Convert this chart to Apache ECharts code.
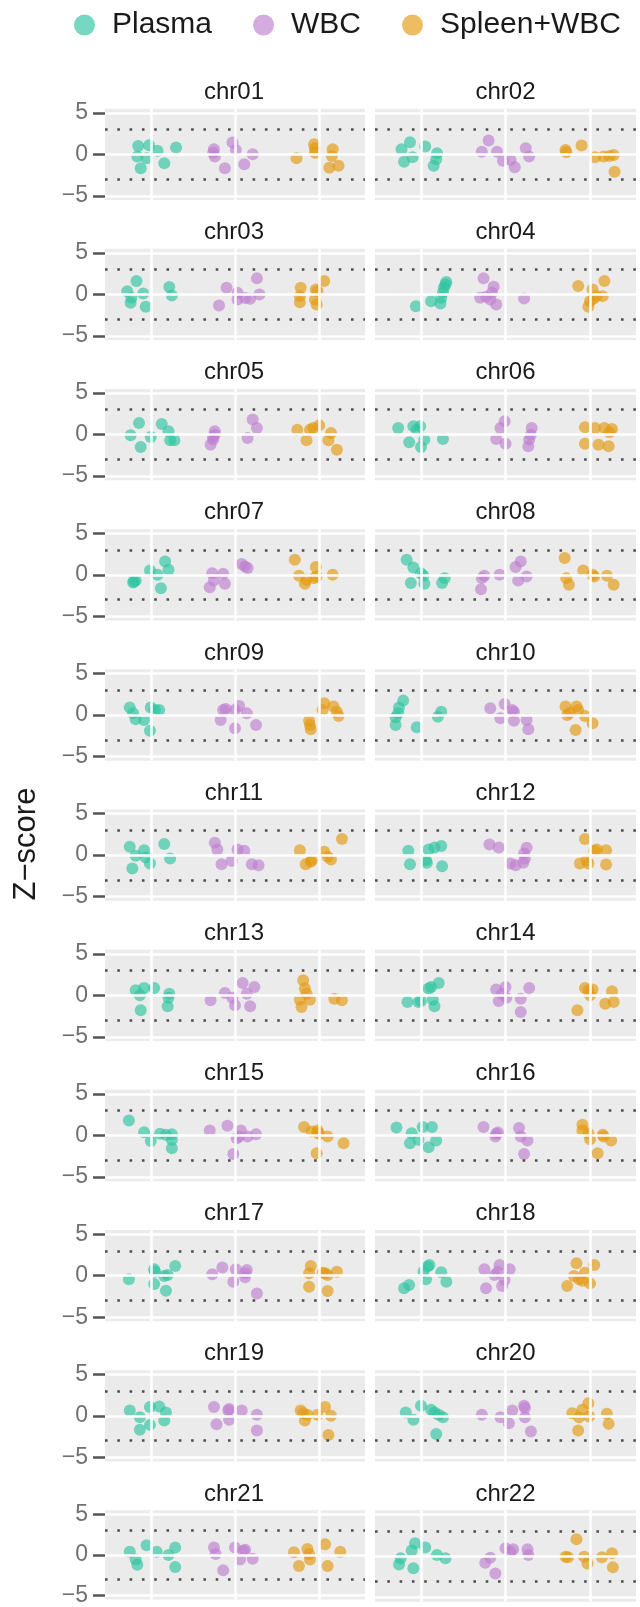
<!DOCTYPE html>
<html><head><meta charset="utf-8">
<script src="https://cdn.jsdelivr.net/npm/echarts@6/dist/echarts.min.js"></script>
<style>html,body{margin:0;padding:0;background:#fff}#c{width:640px;height:1607px}</style>
</head><body><div id="c"></div>
<script>
const chromosomes = ['chr01','chr02','chr03','chr04','chr05','chr06','chr07','chr08','chr09','chr10','chr11',
  'chr12','chr13','chr14','chr15','chr16','chr17','chr18','chr19','chr20','chr21','chr22'];
const groups = ['Plasma','WBC','Spleen+WBC'];
const yTicks = [-5, 0, 5];
const thresholds = [-3, 3];
const yTitle = 'Z\u2212score';

// horizontal jitter (in category units) and Z-score of each sample, one row per chromosome
const plasmaJitter = [
 [-0.15,-0.02,0.08,-0.16,-0.05,-0.12,0.16,0.30],[-0.23,-0.13,-0.20,-0.10,0.05,0.19,0.18,0.15],
 [-0.28,-0.17,-0.23,-0.24,-0.09,-0.06,0.22,0.25],[-0.06,0.12,0.23,0.24,0.26,0.27,0.29,0.30],
 [-0.24,-0.14,-0.12,0.0,0.13,0.21,0.23,0.28],[-0.27,-0.14,-0.09,-0.05,-0.01,0.0,0.04,0.26],
 [-0.21,-0.18,-0.01,0.08,0.12,0.17,0.21,-0.20],[-0.17,-0.09,0.0,0.03,0.04,-0.12,0.25,0.28],
 [-0.25,-0.21,-0.18,-0.08,-0.01,0.0,0.05,0.10],[-0.30,-0.30,-0.27,-0.26,-0.21,-0.05,0.20,0.24],
 [-0.25,-0.22,-0.18,-0.08,-0.06,-0.01,0.16,0.23],[-0.15,-0.13,0.06,0.07,0.09,0.16,0.24,0.25],
 [-0.18,-0.13,-0.12,-0.08,0.04,0.20,0.22,0.21],[-0.16,-0.03,0.0,0.09,0.12,0.14,0.16,0.21],
 [-0.26,-0.08,0.0,0.11,0.18,0.25,0.25,0.25],[-0.29,-0.13,-0.11,-0.03,0.02,0.09,0.13,0.18],
 [-0.26,0.04,0.05,0.04,0.16,0.20,0.18,0.29],[-0.20,-0.14,0.03,0.06,0.08,0.10,0.24,0.30],
 [-0.25,-0.13,-0.13,-0.01,-0.01,0.10,0.16,0.18],[-0.18,-0.09,0.0,0.12,0.16,0.21,0.26,0.18],
 [-0.25,-0.18,-0.16,-0.05,0.07,0.21,0.29,0.29],[-0.26,-0.24,-0.11,-0.09,-0.07,0.05,0.19,0.29]
];
const plasmaZ = [
 [1.0,1.09,0.44,-0.28,-0.48,-1.69,-1.09,0.81],[0.6,1.45,-0.89,-0.36,0.93,0.12,-0.6,-1.37],
 [0.4,1.61,-0.4,-1.0,0.12,-1.49,0.89,-0.12],[-1.41,-0.81,-1.09,-0.4,0.28,0.81,1.21,1.49],
 [-0.08,1.41,-1.49,-0.28,1.29,0.4,-0.69,-0.69],[0.81,-0.93,1.01,0.6,1.01,-1.49,-0.6,-0.52],
 [-0.93,-0.69,0.52,0.0,-1.61,1.61,0.6,-0.81],[1.81,0.89,0.2,-0.12,-1.09,-1.0,-1.0,-0.4],
 [0.89,0.2,-0.52,-0.6,-1.89,0.89,0.6,0.6],[-1.21,-0.28,0.2,0.89,1.73,-1.49,-0.2,0.4],
 [1.01,-1.61,-0.08,0.6,-0.28,-1.0,1.33,-0.4],[0.52,-1.09,-0.6,-0.93,0.69,0.93,1.09,-1.33],
 [0.6,0.0,-1.81,0.89,0.89,-1.33,0.2,-0.28],[-0.81,-0.81,-0.69,0.81,1.01,-0.52,-1.33,1.49],
 [1.81,0.4,-0.65,0.2,0.08,0.16,-0.52,-1.53],[0.97,-0.93,0.28,-0.52,1.01,-1.41,1.01,-0.6],
 [-0.44,0.77,0.48,-1.01,-0.04,0.08,-1.81,1.17],[-1.53,-1.13,0.48,-0.44,1.09,1.29,0.4,-0.73],
 [0.65,-0.16,-1.69,1.05,-1.09,1.13,-0.56,0.4],[0.4,-0.48,1.21,0.73,0.4,0.12,-0.16,-2.18],
 [0.4,-0.56,-1.21,1.21,0.4,0.0,0.93,-1.49],[-1.01,-0.28,0.65,-1.49,1.53,1.01,0.12,-0.28]
];
const wbcJitter = [
 [-0.25,-0.26,-0.24,-0.03,0.01,-0.12,0.11,0.21],[-0.28,-0.20,-0.10,-0.03,0.06,0.11,0.24,0.28],
 [-0.19,-0.10,0.03,0.03,0.12,0.18,0.26,0.29],[-0.26,-0.30,-0.23,-0.14,-0.16,-0.18,-0.11,0.22],
 [-0.29,-0.26,-0.24,-0.24,0.15,0.21,0.26,-0.26],[-0.11,-0.06,-0.01,0.0,0.27,0.28,0.30,0.31],
 [-0.30,-0.27,-0.25,-0.14,-0.12,0.08,0.15,0.12],[-0.29,-0.28,-0.25,-0.07,0.12,0.18,0.25,0.15],
 [-0.17,-0.14,-0.11,0.0,0.0,0.05,0.14,0.25],[-0.18,-0.06,-0.01,0.08,0.10,0.10,0.25,0.27],
 [-0.24,-0.21,-0.16,-0.04,0.03,0.11,0.20,0.28],[-0.19,-0.08,0.06,0.12,0.21,0.23,0.25,0.22],
 [-0.29,-0.12,-0.03,0.0,0.09,0.14,0.18,0.23],[-0.11,-0.08,-0.04,0.0,0.01,0.18,0.18,0.28],
 [-0.30,-0.09,-0.02,0.02,0.07,0.15,0.25,0.05],[-0.26,-0.12,-0.09,-0.11,0.16,0.18,0.26,0.22],
 [-0.27,-0.15,-0.02,0.01,0.12,0.12,0.14,0.26],[-0.25,-0.23,-0.13,-0.09,-0.07,-0.04,-0.01,0.05],
 [-0.25,-0.22,-0.08,-0.07,-0.07,0.08,0.26,0.26],[-0.28,-0.06,0.04,0.08,0.22,0.23,0.23,0.30],
 [-0.25,-0.23,-0.14,0.0,0.06,0.10,0.12,0.21],[-0.24,-0.18,-0.12,0.0,0.06,0.09,0.26,0.27]
];
const wbcZ = [
 [0.6,0.2,-0.28,1.41,0.52,-1.69,-1.21,0.0],[0.32,1.65,0.32,-0.77,-0.69,-1.57,0.73,-0.28],
 [-1.33,0.81,0.2,-0.6,-0.44,-0.52,1.94,0.0],[1.94,-0.4,-0.28,0.93,0.2,-0.6,-1.21,-0.48],
 [-1.21,-0.6,0.0,0.4,-0.4,1.81,0.81,-0.28],[-0.52,0.81,1.61,-1.09,-1.41,-0.6,0.0,0.81],
 [-1.49,0.2,-0.69,0.12,-1.09,1.29,0.81,1.01],[-1.73,-0.4,-0.12,0.0,0.93,1.61,-0.2,-0.69],
 [-0.6,0.6,0.73,-1.61,0.6,1.09,0.2,-1.21],[0.81,-0.4,1.33,0.6,0.4,-0.69,-0.6,-1.73],
 [1.49,0.69,-1.09,-0.69,0.69,0.52,-1.09,-1.21],[1.29,0.93,-1.0,-1.21,-0.93,-0.4,0.89,0.2],
 [-0.6,0.28,-0.28,-1.21,1.49,0.2,-1.33,1.01],[0.69,-0.69,0.2,1.01,-0.28,-0.4,-2.02,0.89],
 [0.6,1.17,-2.22,-0.32,0.6,-0.12,0.16,-0.12],[1.01,-0.12,0.36,0.2,0.89,-0.12,-0.6,-2.22],
 [0.16,0.97,-0.73,0.77,0.28,-0.2,0.69,-2.14],[0.77,-1.53,0.08,0.48,1.29,-1.25,-0.52,0.77],
 [1.05,-1.01,0.65,-0.48,0.81,0.65,0.12,-1.77],[0.12,-0.16,-0.89,0.65,1.21,0.93,-0.16,-1.9],
 [0.93,0.12,-1.9,0.93,-0.56,0.52,0.65,-0.48],[-0.81,-0.2,-2.1,0.93,0.52,0.81,0.81,0.12]
];
const spleenJitter = [
 [-0.27,-0.06,-0.05,-0.05,0.16,0.15,0.12,0.23],[-0.28,-0.29,-0.10,0.06,0.16,0.28,0.29,0.23],
 [-0.22,-0.23,-0.23,-0.04,-0.02,-0.03,-0.05,0.06],[-0.14,0.17,0.03,0.08,0.15,0.0,-0.02,0.04],
 [-0.26,-0.15,-0.11,-0.07,0.0,0.14,0.11,0.21],[-0.06,-0.06,0.06,0.10,0.17,0.22,0.23,0.26],
 [-0.29,-0.24,-0.17,-0.15,-0.06,-0.04,-0.03,0.16],[-0.30,-0.28,-0.25,-0.08,0.03,0.05,0.20,0.28],
 [-0.12,-0.11,-0.10,0.04,0.06,0.17,0.21,0.23],[-0.29,-0.27,-0.24,-0.17,-0.16,-0.14,-0.06,0.03],
 [-0.23,-0.16,-0.09,-0.10,0.06,0.10,0.14,0.27],[-0.12,-0.06,-0.04,-0.02,0.05,0.08,0.19,0.19],
 [-0.23,-0.21,-0.19,-0.17,-0.15,-0.11,0.18,0.27],[-0.15,-0.06,-0.02,0.0,0.03,0.18,0.26,0.28],
 [-0.18,-0.09,-0.03,-0.02,0.0,0.10,0.29,-0.02],[-0.09,-0.09,-0.02,0.0,0.09,0.15,0.16,0.25],
 [-0.12,-0.10,-0.12,0.04,0.07,0.10,0.10,0.21],[-0.27,-0.19,-0.16,-0.13,-0.09,-0.06,0.0,0.05],
 [-0.22,-0.19,-0.17,-0.14,-0.02,0.07,0.14,0.11],[-0.21,-0.14,-0.13,-0.09,-0.02,-0.01,0.20,0.22],
 [-0.30,-0.24,-0.14,-0.12,-0.11,0.07,0.10,0.25],[-0.29,-0.26,-0.16,-0.07,-0.03,0.14,0.26,0.27]
];
const spleenZ = [
 [-0.48,1.21,0.73,0.2,0.6,-0.2,-1.61,-1.37],[0.24,0.52,1.05,-0.36,-0.28,-0.08,-2.1,-0.2],
 [0.81,-0.2,-0.93,0.6,0.4,-1.21,-0.6,1.61],[1.01,1.61,0.6,-0.2,-0.2,-0.81,-1.49,-0.52],
 [0.6,-0.69,0.6,0.81,1.13,0.2,-0.69,-1.81],[0.89,-1.09,0.81,-1.21,0.81,-1.41,0.28,0.69],
 [1.81,-0.12,-1.09,-0.6,-0.4,0.93,-0.2,0.0],[2.02,-0.4,-1.21,0.52,0.0,-0.2,-0.12,-1.21],
 [-0.69,-1.21,-1.73,0.6,1.41,1.01,0.4,-0.12],[1.01,0.0,0.28,-1.81,1.01,0.6,-0.12,-1.01],
 [0.6,-1.09,-0.6,-0.81,0.4,-0.2,-0.52,1.94],[-1.0,1.94,-0.6,-1.0,0.52,0.69,0.6,-1.13],
 [-0.52,-1.41,1.81,0.81,0.2,-0.52,-0.4,-0.6],[-1.81,0.89,0.6,0.0,0.69,-1.01,0.48,-0.81],
 [1.01,0.48,-2.14,0.36,0.2,-0.12,-0.93,0.6],[1.29,0.6,0.28,-0.44,-2.14,0.08,-0.12,-0.6],
 [0.28,1.17,-1.33,0.36,0.28,-1.85,0.08,0.48],[-1.25,-0.04,1.49,-0.44,-0.6,0.36,-0.93,1.29],
 [0.65,0.32,-0.56,0.12,0.12,1.05,0.0,-2.3],[0.32,-1.77,-0.16,0.73,1.53,-0.08,0.24,-0.97],
 [0.32,-1.37,0.73,0.12,-0.56,1.33,-1.37,0.4],[-0.08,-0.16,2.02,-0.08,-0.89,-0.16,0.32,-1.37]
];

const jitters = [plasmaJitter, wbcJitter, spleenJitter];
const zscores = [plasmaZ, wbcZ, spleenZ];
const colors = ['#2ec4a0', '#bf80d0', '#e39a10'];
const legendColors = ['#77d8c1', '#d5ace0', '#edbd63'];

const FONT = "'Liberation Sans', Arial, Helvetica, sans-serif";
const ROW0 = 154.3, STEP = 140.17, PX = 8.3;
const panels = [{left: 105, width: 260, cx: 234}, {left: 375, width: 261, cx: 505.5}];

const chart = echarts.init(document.getElementById('c'), null, {renderer: 'canvas', width: 640, height: 1607});
const grid = [], xAxis = [], yAxis = [], series = [], graphic = [];
const white = {color: '#ffffff', width: 2.5, type: 'solid'};
const dotted = {color: '#4d4d4d', width: 2.6, type: [2.6, 9.7]};

chromosomes.forEach((name, i) => {
  const row = Math.floor(i / 2), col = i % 2, p = panels[col];
  const zero = ROW0 + STEP * row;
  grid.push({left: p.left, top: zero - 5.5 * PX, width: p.width, height: 11 * PX,
    show: true, backgroundColor: '#EBEBEB', borderWidth: 0});
  xAxis.push({gridIndex: i, type: 'value', min: 0.456, max: 3.544, show: false});
  yAxis.push({gridIndex: i, type: 'value', min: -5.5, max: 5.5,
    axisLine: {show: false}, splitLine: {show: false},
    axisTick: {show: col === 0, customValues: yTicks, length: 12, lineStyle: {color: '#555', width: 2.5}},
    axisLabel: {show: col === 0, customValues: yTicks, margin: 17, fontSize: 23, color: '#707070',
      fontFamily: FONT, formatter: v => String(v).replace('-', '\u2212')}});
  series.push({type: 'line', xAxisIndex: i, yAxisIndex: i, data: [], silent: true, z: 1,
    animation: false, symbol: 'none',
    markLine: {silent: true, symbol: ['none', 'none'], label: {show: false}, animation: false,
      emphasis: {disabled: true},
      data: [
        ...yTicks.map(v => ({yAxis: v, lineStyle: white})),
        ...groups.map((g, k) => ({xAxis: k + 1, lineStyle: white})),
        ...thresholds.map(v => ({yAxis: v, lineStyle: dotted}))
      ]}});
  groups.forEach((g, k) => {
    series.push({name: g, type: 'scatter', xAxisIndex: i, yAxisIndex: i, z: 3, silent: true,
      animation: false, symbolSize: 12,
      itemStyle: {color: colors[k], opacity: 0.65},
      data: jitters[k][i].map((d, j) => [k + 1 + d, zscores[k][i][j]])});
  });
  graphic.push({type: 'text', x: p.cx, y: zero - 62, silent: true,
    style: {text: name, fontSize: 24, fontFamily: FONT, fill: '#1a1a1a',
      align: 'center', verticalAlign: 'middle', textAlign: 'center', textVerticalAlign: 'middle'}});
});

graphic.push({type: 'text', x: 26, y: 844, rotation: Math.PI / 2, silent: true,
  style: {text: yTitle, fontSize: 31, fontFamily: FONT, fill: '#1a1a1a',
    align: 'center', verticalAlign: 'middle', textAlign: 'center', textVerticalAlign: 'middle'}});

chart.setOption({
  animation: false,
  backgroundColor: '#ffffff',
  legend: {top: 10, left: 74, padding: 0, itemWidth: 21, itemHeight: 21, itemGap: 41, icon: 'circle',
    selectedMode: false,
    textStyle: {fontSize: 30, color: '#1a1a1a', fontFamily: FONT, padding: [0, 0, 0, 12]},
    data: groups.map((g, k) => ({name: g, itemStyle: {color: legendColors[k], opacity: 1}}))},
  grid, xAxis, yAxis, series, graphic
});
</script></body></html>
